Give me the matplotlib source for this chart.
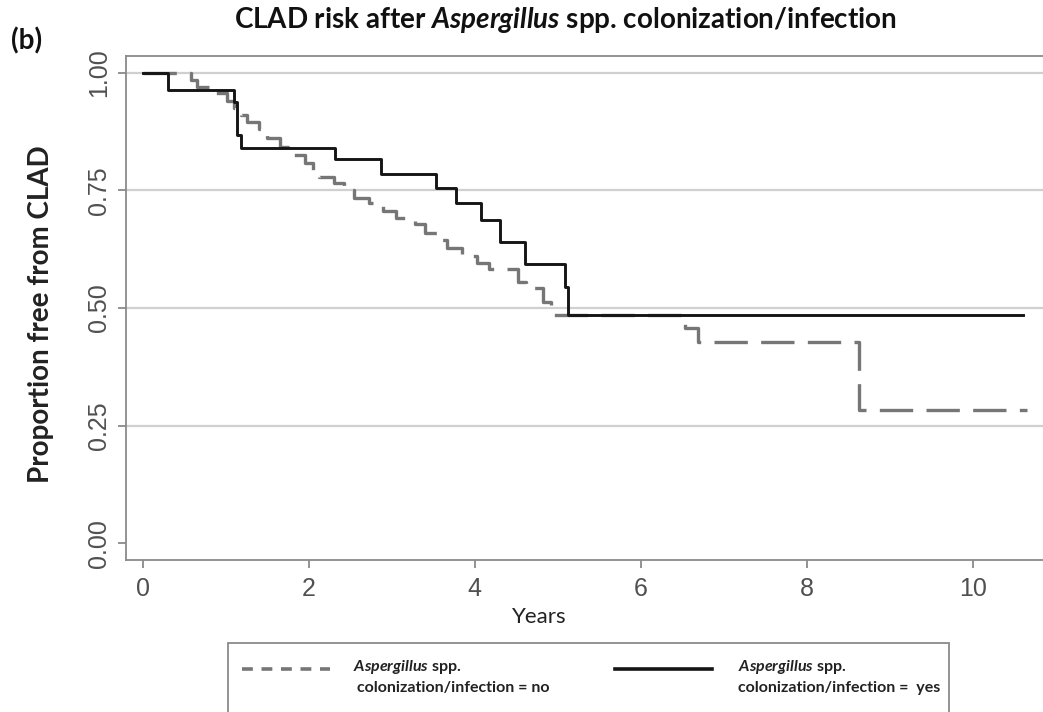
import matplotlib
matplotlib.use("Agg")
import matplotlib.pyplot as plt
from matplotlib.lines import Line2D
from matplotlib.patches import Rectangle

plt.rcParams["mathtext.fontset"] = "custom"
plt.rcParams["mathtext.rm"] = "Lato"
plt.rcParams["mathtext.it"] = "Lato:italic:bold"
plt.rcParams["mathtext.bf"] = "Lato:bold"

# Kaplan-Meier steps (time in years, survival after step)
no_t = [0.00, 0.58, 0.66, 0.80, 1.02, 1.10, 1.18, 1.26, 1.40, 1.50, 1.65, 1.75,
        1.95, 2.05, 2.12, 2.30, 2.42, 2.55, 2.72, 2.90, 3.05, 3.28, 3.40, 3.55,
        3.66, 3.85, 4.02, 4.17, 4.52, 4.62, 4.82, 4.92, 6.53, 6.69, 8.62, 10.65]
no_s = [1.000, 0.985, 0.971, 0.958, 0.940, 0.925, 0.910, 0.895, 0.880, 0.862,
        0.842, 0.826, 0.808, 0.792, 0.778, 0.765, 0.750, 0.735, 0.724, 0.707,
        0.692, 0.678, 0.660, 0.645, 0.628, 0.610, 0.596, 0.583, 0.555, 0.543,
        0.512, 0.485, 0.457, 0.427, 0.282, 0.282]

yes_t = [0.00, 0.30, 1.10, 1.14, 1.18, 2.32, 2.87, 3.53, 3.77, 4.07, 4.30, 4.60,
         5.09, 5.12, 10.60]
yes_s = [1.000, 0.964, 0.939, 0.868, 0.840, 0.816, 0.784, 0.756, 0.724, 0.688,
         0.641, 0.594, 0.545, 0.485, 0.485]

xticks = [0, 2, 4, 6, 8, 10]
yticks = [0.00, 0.25, 0.50, 0.75, 1.00]
ygrid = [0.25, 0.50, 0.75, 1.00]

W, H = 1043, 712
fig = plt.figure(figsize=(W / 100, H / 100), dpi=100)
fig.patch.set_facecolor("white")

ax = fig.add_axes([126 / W, (H - 560) / H, 922 / W, 504 / H])
ax.set_xlim(-0.2, 10.9)
ax.set_ylim(-0.036, 1.036)

for g in ygrid:
    ax.axhline(g, color="#d0d0d0", linewidth=1.6, zorder=1)

ax.plot(no_t, no_s, drawstyle="steps-post", color="#767676", linewidth=2.4,
        dashes=(10, 4), zorder=2)
ax.plot(yes_t, yes_s, drawstyle="steps-post", color="#151515", linewidth=2.1,
        zorder=3)

for s in ax.spines.values():
    s.set_color("#8a8a8a")
    s.set_linewidth(1.3)

ax.set_xticks(xticks)
ax.set_xticklabels([str(v) for v in xticks])
ax.set_yticks(yticks)
ax.set_yticklabels([f"{v:.2f}" for v in yticks], rotation=90, va="center")
ax.tick_params(axis="both", colors="#8a8a8a", length=6, width=1.3,
               labelcolor="#505050", labelsize=18)
ax.tick_params(axis="x", pad=6)
ax.tick_params(axis="y", pad=5)
for lab in ax.get_xticklabels() + ax.get_yticklabels():
    lab.set_family("Liberation Sans")

ax.set_xlabel("Years", family="Lato", fontsize=16, color="#222222")
ax.xaxis.set_label_coords((539 - 126) / 922, (560 - 607) / 504)
ax.set_ylabel("Proportion free from CLAD", family="Lato", fontweight="bold",
              fontsize=20, color="#222222")
ax.yaxis.set_label_coords((54 - 126) / 922, (560 - 314) / 504)

fig.text(565 / W, 1 - 20 / H,
         r"CLAD risk after $\mathit{Aspergillus}$ spp. colonization/infection",
         ha="center", va="center", family="Lato", fontweight="bold", fontsize=20,
         color="#111111")
fig.text(11 / W, 1 - 41 / H, "(b)", ha="left", va="center", family="Lato",
         fontweight="bold", fontsize=20, color="#111111")

# legend box, cut off at the bottom like the source
fig.add_artist(Rectangle((228 / W, -0.05), (949 - 228) / W, (H - 643) / H + 0.05,
                         transform=fig.transFigure, facecolor="white",
                         edgecolor="#8a8a8a", linewidth=1.3, clip_on=False))
ly = 1 - 669 / H
fig.add_artist(Line2D([242 / W, 330 / W], [ly, ly], transform=fig.transFigure,
                      color="#767676", linewidth=2.6, dashes=(3, 2.4)))
fig.add_artist(Line2D([615 / W, 712 / W], [ly, ly], transform=fig.transFigure,
                      color="#151515", linewidth=2.6))
leg_kw = dict(family="Lato", fontweight="bold", fontsize=11.5, color="#222222",
              ha="left", va="center")
fig.text(353 / W, 1 - 667 / H, r"$\mathit{Aspergillus}$ spp.", **leg_kw)
fig.text(357 / W, 1 - 688 / H, "colonization/infection = no", **leg_kw)
fig.text(738 / W, 1 - 667 / H, r"$\mathit{Aspergillus}$ spp.", **leg_kw)
fig.text(738 / W, 1 - 688 / H, "colonization/infection =  yes", **leg_kw)

fig.savefig("out.png", dpi=100, facecolor="white")
